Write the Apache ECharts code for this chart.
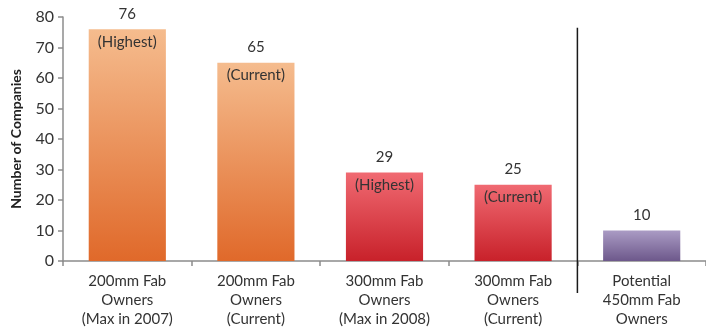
<!DOCTYPE html>
<html>
<head>
<meta charset="utf-8">
<script src="https://cdn.jsdelivr.net/npm/echarts@6/dist/echarts.min.js"></script>
<style>html,body{margin:0;padding:0;background:#fff}#c{width:706px;height:331px}</style>
</head>
<body>
<div id="c"></div>
<script>
const categories = [
  "200mm Fab\nOwners\n(Max in 2007)",
  "200mm Fab\nOwners\n(Current)",
  "300mm Fab\nOwners\n(Max in 2008)",
  "300mm Fab\nOwners\n(Current)",
  "Potential\n450mm Fab\nOwners"
];
const values = [76, 65, 29, 25, 10];
const notes = ["(Highest)", "(Current)", "(Highest)", "(Current)", ""];
const topColors = ["#f5bc8e", "#f5bc8e", "#f06a72", "#f06a72", "#aa9bc4"];
const bottomColors = ["#e0692a", "#e0692a", "#c8212a", "#c8212a", "#6d588b"];
const yTicks = { min: 0, max: 80, interval: 10 };

const FONT = "Lato";
const chart = echarts.init(document.getElementById('c'), null, { renderer: 'canvas' });

const barData = values.map((v, i) => ({
  value: v,
  itemStyle: {
    color: new echarts.graphic.LinearGradient(0, 0, 0, 1, [
      { offset: 0, color: topColors[i] },
      { offset: 1, color: bottomColors[i] }
    ])
  }
}));

chart.setOption({
  animation: false,
  grid: { left: 63, right: -11, top: 17, bottom: 70 },
  xAxis: {
    type: 'category',
    data: categories,
    axisLine: { lineStyle: { color: '#8c8c8c', width: 1.5 } },
    axisTick: { show: true, length: 5, lineStyle: { color: '#8c8c8c', width: 1.5 } },
    axisLabel: { color: '#333', fontFamily: FONT, fontSize: 15, lineHeight: 19, margin: 11, interval: 0 }
  },
  yAxis: {
    type: 'value',
    min: yTicks.min, max: yTicks.max, interval: yTicks.interval,
    name: 'Number of Companies',
    nameLocation: 'middle',
    nameGap: 40,
    nameTextStyle: { color: '#222', fontFamily: FONT, fontSize: 14, fontWeight: 'bold' },
    axisLine: { show: true, lineStyle: { color: '#8c8c8c', width: 1.5 } },
    axisTick: { show: true, length: 5, lineStyle: { color: '#8c8c8c', width: 1.5 } },
    axisLabel: { color: '#333', fontFamily: FONT, fontSize: 16, margin: 9 },
    splitLine: { show: false }
  },
  series: [
    {
      type: 'bar',
      data: barData,
      barWidth: '60%',
      label: { show: true, position: 'top', distance: 8, color: '#333', fontFamily: FONT, fontSize: 15 }
    },
    {
      type: 'bar',
      data: values,
      barWidth: '60%',
      barGap: '-100%',
      itemStyle: { color: 'rgba(0,0,0,0)' },
      label: {
        show: true, position: 'insideTop', distance: 5, color: '#333', fontFamily: FONT, fontSize: 15,
        formatter: p => notes[p.dataIndex]
      },
      silent: true
    }
  ]
});

// separator line between category 4 and 5
const x3 = chart.convertToPixel({ xAxisIndex: 0 }, 3);
const x4 = chart.convertToPixel({ xAxisIndex: 0 }, 4);
const xs = (x3 + x4) / 2;
const y0 = chart.convertToPixel({ yAxisIndex: 0 }, 0);
const yTop = chart.convertToPixel({ yAxisIndex: 0 }, 76.5);
chart.setOption({
  graphic: [{
    type: 'line',
    shape: { x1: xs, y1: yTop, x2: xs, y2: y0 + 32 },
    style: { stroke: '#1a1a1a', lineWidth: 1.5 },
    z: 100
  }]
});
</script>
</body>
</html>
